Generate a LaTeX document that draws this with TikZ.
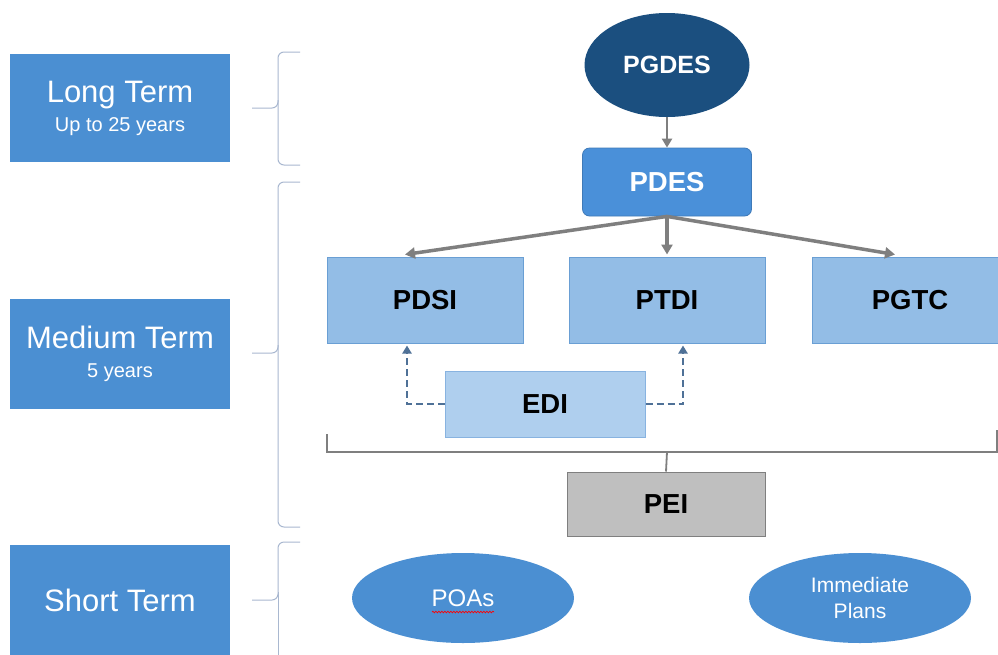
\documentclass[tikz,border=0pt]{standalone}
\usepackage{fontspec}
\setmainfont{Liberation Sans}
\usetikzlibrary{arrows.meta,shapes.geometric,calc,decorations.pathmorphing}
\definecolor{termblue}{HTML}{4B8FD2}
\definecolor{navy}{HTML}{1B4F7F}
\definecolor{pdesblue}{HTML}{4A90D9}
\definecolor{midblue}{HTML}{93BDE6}
\definecolor{midborder}{HTML}{6A9FD4}
\definecolor{lightblue}{HTML}{AFCFEE}
\definecolor{lightborder}{HTML}{88B3E0}
\definecolor{peigray}{HTML}{BFBFBF}
\definecolor{arrgray}{HTML}{7F7F7F}
\definecolor{dashblue}{HTML}{4F7197}
\definecolor{bracecol}{HTML}{A9B8D0}
\tikzset{
  termbox/.style={fill=termblue, draw=none, minimum width=220pt, inner sep=0pt, text=white, align=center, font=\fontsize{31}{29}\selectfont},
  planbox/.style={fill=midblue, draw=midborder, line width=1pt, minimum width=196pt, minimum height=86pt, inner sep=0pt, font=\fontsize{27.5}{30}\selectfont\bfseries},
  arr/.style={draw=arrgray, line width=3.5pt, -{Triangle[length=10pt,width=11pt]}},
  dasharr/.style={draw=dashblue, line width=2.4pt, dash pattern=on 7pt off 4pt, -{Triangle[length=8pt,width=9pt]}},
  bracestyle/.style={draw=bracecol, line width=1pt, rounded corners=6pt},
  ovalnode/.style={ellipse, fill=termblue, draw=none, minimum width=222pt, minimum height=90pt, inner sep=0pt, text=white, align=center}
}
\begin{document}
\begin{tikzpicture}[x=1pt,y=-1pt]
\useasboundingbox (0,0) rectangle (998,654);
\fill[white] (0,0) rectangle (998,654);
% left term boxes
\node[termbox, minimum height=108pt] (long) at (120,108) {Long Term\\{\fontsize{20}{22}\selectfont Up to 25 years}};
\node[termbox, minimum height=110pt] (medium) at (120,354) {Medium Term\\{\fontsize{20}{22}\selectfont 5 years}};
\node[termbox, minimum height=110pt] (short) at (120,600) {Short Term};
% braces
\draw[bracestyle] (300,52) -- (278,52) -- (278,108) -- (252,108);
\draw[bracestyle] (278,100) -- (278,165) -- (300,165);
\draw[bracestyle] (300,182) -- (278,182) -- (278,353) -- (252,353);
\draw[bracestyle] (278,345) -- (278,527) -- (300,527);
\draw[bracestyle] (300,542) -- (278,542) -- (278,600) -- (252,600);
\draw[bracestyle] (278,592) -- (278,670);
% main nodes
\node[ellipse, fill=navy, minimum width=165pt, minimum height=104pt, inner sep=0pt, text=white, font=\fontsize{25}{28}\selectfont\bfseries] (pgdes) at (667,65) {PGDES};
\node[rectangle, rounded corners=7pt, fill=pdesblue, draw=pdesblue!85!black, line width=0.8pt, minimum width=169pt, minimum height=68pt, inner sep=0pt, text=white, font=\fontsize{27.5}{30}\selectfont\bfseries] (pdes) at (667,182) {PDES};
\node[planbox] (pdsi) at (425,300) {PDSI};
\node[planbox] (ptdi) at (667,300) {PTDI};
\node[planbox] (pgtc) at (910,300) {PGTC};
\node[rectangle, fill=lightblue, draw=lightborder, line width=1pt, minimum width=200pt, minimum height=66pt, inner sep=0pt, font=\fontsize{27.5}{30}\selectfont\bfseries] (edi) at (545,404) {EDI};
\node[rectangle, fill=peigray, draw=arrgray, line width=1pt, minimum width=198pt, minimum height=64pt, inner sep=0pt, font=\fontsize{27.5}{30}\selectfont\bfseries] (pei) at (666,504) {PEI};
\node[ovalnode, font=\fontsize{24}{26}\selectfont] (poas) at (463,598) {POAs};
\node[ovalnode, font=\fontsize{21}{26}\selectfont] (immediate) at (860,598) {Immediate\\ Plans};
\draw[red, line width=0.7pt, decorate, decoration={snake, amplitude=0.8pt, segment length=3pt}] ($(poas.center)+(-31,14)$) -- ($(poas.center)+(31,14)$);
% arrows
\draw[draw=arrgray, line width=2.8pt, -{Triangle[length=9pt,width=10pt]}] (pgdes.south) -- (pdes.north);
\draw[arr] (pdes.south) -- ($(pdsi.north)+(-20,-2)$);
\draw[arr] (pdes.south) -- ($(ptdi.north)+(0,-2)$);
\draw[arr] (pdes.south) -- ($(pgtc.north)+(-15,-2)$);
% dashed arrows from EDI
\coordinate (d1) at ($(pdsi.south)+(-18,2)$);
\coordinate (d2) at ($(ptdi.south)+(16,2)$);
\draw[dasharr] (edi.west) -| (d1);
\draw[dasharr] (edi.east) -| (d2);
% bracket to PEI
\coordinate (bl) at (327,434);
\coordinate (br) at (997,430);
\draw[draw=arrgray, line width=1.8pt] (bl) -- (327,452) -- (997,452) -- (br);
\draw[draw=arrgray, line width=1.8pt] (667,452) -- (pei.north);
\end{tikzpicture}
\end{document}
